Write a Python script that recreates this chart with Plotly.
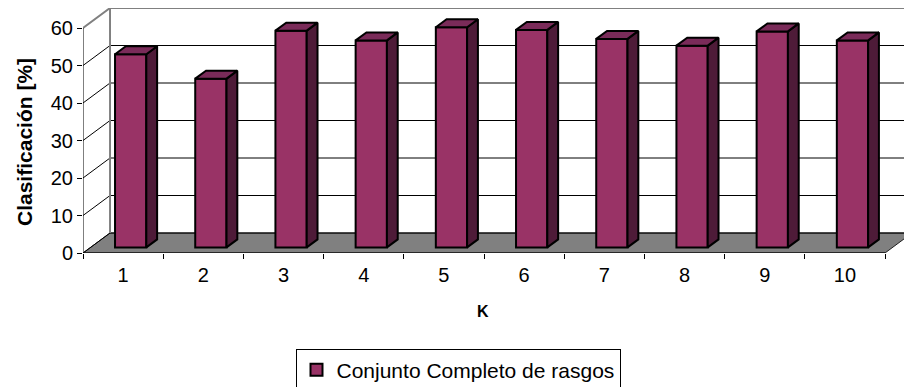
import plotly.graph_objects as go

# Classification rate (%) for each K
k_labels = ["1", "2", "3", "4", "5", "6", "7", "8", "9", "10"]
clasificacion = [51.5, 45.0, 57.8, 55.2, 58.7, 58.0, 55.6, 53.8, 57.6, 55.2]
y_ticks = [0, 10, 20, 30, 40, 50, 60]
serie = "Conjunto Completo de rasgos"

# pseudo-3D geometry (in axis units)
DX, DY = 0.337, 5.333        # depth offset of the back wall
F = 0.28                      # depth position of the bar front faces
D = 0.40                      # bar depth (fraction of wall depth)
BW = 0.39                     # bar width
n = len(clasificacion)
YMAX = y_ticks[-1]

FRONT = "#993366"
SIDE = "#4E1B38"
TOP = "#7A2B59"
FONT = "Liberation Sans, Arial, sans-serif"

shapes = []
# floor
shapes.append(dict(type="path", layer="below", xref="x", yref="y",
                   path=f"M 0 0 L {n} 0 L {n+DX} {DY} L {DX} {DY} Z",
                   fillcolor="#808080", line=dict(color="#202020", width=1)))
# back-wall gridlines and left-wall diagonals
for v in y_ticks[:-1]:
    shapes.append(dict(type="line", layer="below", xref="x", yref="y",
                       x0=DX, x1=n + 2, y0=v + DY, y1=v + DY,
                       line=dict(color="#000000", width=1)))
    shapes.append(dict(type="line", layer="below", xref="x", yref="y",
                       x0=0, x1=DX, y0=v, y1=v + DY,
                       line=dict(color="#000000", width=1)))
# back wall left edge
shapes.append(dict(type="line", layer="below", xref="x", yref="y",
                   x0=DX, x1=DX, y0=DY, y1=YMAX + DY,
                   line=dict(color="#808080", width=2)))

fig = go.Figure()

# bar front faces
centers = [i + 0.5 + F * DX for i in range(n)]
fig.add_trace(go.Bar(
    x=centers, y=clasificacion, base=[F * DY] * n, width=BW,
    marker=dict(color=FRONT, line=dict(color="black", width=2)),
    name=serie, showlegend=True))

# bar side and top faces
sx, sy, tx, ty = [], [], [], []
for c, v in zip(centers, clasificacion):
    x0, x1 = c - BW / 2, c + BW / 2
    b, t = F * DY, v + F * DY
    ddx, ddy = D * DX, D * DY
    sx += [x1, x1 + ddx, x1 + ddx, x1, x1, None]
    sy += [b, b + ddy, t + ddy, t, b, None]
    tx += [x0, x1, x1 + ddx, x0 + ddx, x0, None]
    ty += [t, t, t + ddy, t + ddy, t, None]
fig.add_trace(go.Scatter(x=sx, y=sy, mode="lines", fill="toself", fillcolor=SIDE,
                         line=dict(color="black", width=2), showlegend=False,
                         hoverinfo="skip"))
fig.add_trace(go.Scatter(x=tx, y=ty, mode="lines", fill="toself", fillcolor=TOP,
                         line=dict(color="black", width=2), showlegend=False,
                         hoverinfo="skip"))

# top edges of the walls
fig.add_trace(go.Scatter(x=[0, DX, n + 2], y=[YMAX, YMAX + DY, YMAX + DY],
                         mode="lines", line=dict(color="#808080", width=2),
                         cliponaxis=False, showlegend=False, hoverinfo="skip"))
# front axis lines
fig.add_trace(go.Scatter(x=[0, 0, None, 0, n], y=[YMAX, 0, None, 0, 0],
                         mode="lines", line=dict(color="black", width=1),
                         cliponaxis=False, showlegend=False, hoverinfo="skip"))

fig.update_layout(
    width=904, height=387,
    margin=dict(l=83, r=0, t=8, b=134, autoexpand=False),
    paper_bgcolor="white", plot_bgcolor="white",
    font=dict(family=FONT, color="black", size=20),
    shapes=shapes,
    showlegend=True,
    legend=dict(x=(458 - 83) / 821, y=(253 - 370) / 245,
                xanchor="center", yanchor="middle",
                bordercolor="black", borderwidth=1, bgcolor="white",
                font=dict(size=21, family=FONT)),
    xaxis=dict(range=[0, (904 - 83) / 80.2], showgrid=False, zeroline=False,
               showline=False,
               tickvals=[i + 0.5 for i in range(n)], ticktext=k_labels,
               ticks="", ticklabelstandoff=8,
               minor=dict(tickvals=list(range(n + 1)), ticks="outside",
                          ticklen=5, tickcolor="black", tickwidth=1,
                          showgrid=False)),
    yaxis=dict(range=[0, 245 / 3.75], showgrid=False, zeroline=False,
               showline=False, tickvals=y_ticks, ticks="outside",
               ticklen=5, tickcolor="black", tickwidth=1),
    annotations=[
        dict(text="<b>Clasificación [%]</b>", textangle=-90, showarrow=False,
             xref="paper", yref="paper", x=(24 - 83) / 821, y=(253 - 142) / 245,
             xanchor="center", yanchor="middle", font=dict(size=21, family=FONT)),
        dict(text="<b>K</b>", showarrow=False, xref="paper", yref="paper",
             x=(483 - 83) / 821, y=(253 - 311) / 245,
             xanchor="center", yanchor="middle", font=dict(size=16, family=FONT)),
    ],
)

fig.write_html("out.html")
